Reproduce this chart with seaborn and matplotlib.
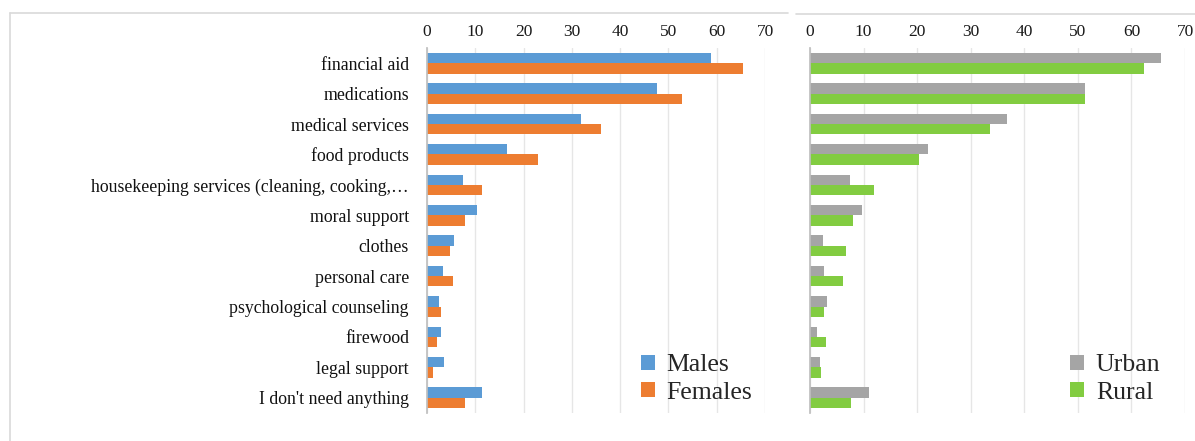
import pandas as pd
import numpy as np
import matplotlib
matplotlib.use('Agg')
import matplotlib.pyplot as plt
import seaborn as sns
from matplotlib.lines import Line2D

# data
categories = ['financial aid', 'medications', 'medical services', 'food products',
              'housekeeping services (cleaning, cooking,\u2026', 'moral support', 'clothes',
              'personal care', 'psychological counseling', 'firewood', 'legal support',
              "I don't need anything"]
males = [58.8, 47.7, 31.9, 16.6, 7.4, 10.3, 5.5, 3.3, 2.5, 2.8, 3.6, 11.3]
females = [65.5, 52.8, 36.0, 23.0, 11.3, 7.8, 4.8, 5.3, 3.0, 2.0, 1.2, 7.8]
urban = [65.6, 51.4, 36.7, 22.1, 7.4, 9.7, 2.4, 2.7, 3.1, 1.3, 1.9, 11.0]
rural = [62.4, 51.4, 33.6, 20.3, 12.0, 8.0, 6.8, 6.1, 2.7, 2.9, 2.0, 7.6]
x_ticks = [0, 10, 20, 30, 40, 50, 60, 70]

sns.set_theme(style='white')
plt.rcParams['font.family'] = ['Liberation Serif', 'DejaVu Serif']

df_sex = pd.DataFrame({'need': categories * 2,
                       'value': males + females,
                       'group': ['Males'] * len(categories) + ['Females'] * len(categories)})
df_area = pd.DataFrame({'need': categories * 2,
                        'value': urban + rural,
                        'group': ['Urban'] * len(categories) + ['Rural'] * len(categories)})

fig = plt.figure(figsize=(11.95, 4.41), dpi=100)
ax1 = fig.add_axes([427 / 1195, 1 - 413 / 441, 338 / 1195, 365 / 441])
ax2 = fig.add_axes([810 / 1195, 1 - 413 / 441, 375 / 1195, 365 / 441])

sns.barplot(data=df_sex, y='need', x='value', hue='group', orient='h', ax=ax1,
            palette=['#5B9BD5', '#ED7D31'], width=0.68, saturation=1, linewidth=0)
sns.barplot(data=df_area, y='need', x='value', hue='group', orient='h', ax=ax2,
            palette=['#A5A5A5', '#82CC41'], width=0.68, saturation=1, linewidth=0)

for ax, anchor_x in ((ax1, 1.012), (ax2, 0.979)):
    ax.set_xlim(0, 70)
    ax.set_xticks(x_ticks)
    ax.xaxis.tick_top()
    ax.tick_params(axis='x', length=0, labelsize=12.5, pad=6, colors='#1A1A1A')
    ax.tick_params(axis='y', length=0)
    ax.set_xlabel('')
    ax.set_ylabel('')
    ax.grid(axis='x', color='#E6E6E6', linewidth=1)
    ax.set_axisbelow(True)
    for s in ['top', 'right', 'bottom']:
        ax.spines[s].set_visible(False)
    ax.spines['left'].set_color('#BFBFBF')
    ax.legend(loc='lower right', bbox_to_anchor=(anchor_x, -0.02), frameon=False,
              fontsize=18.5, handlelength=0.55, handleheight=0.55, handletextpad=0.45,
              labelspacing=0.2, borderaxespad=0.25)

ax1.tick_params(axis='y', labelsize=12.8, pad=13, colors='#111111')
ax2.set_yticklabels([])

# panel borders
fig.add_artist(Line2D([10 / 1195, 788 / 1195], [1 - 13 / 441] * 2, color='#D9D9D9', lw=1.2))
fig.add_artist(Line2D([10 / 1195, 10 / 1195], [0, 1 - 13 / 441], color='#D9D9D9', lw=1.2))
fig.add_artist(Line2D([796 / 1195, 1], [1 - 14 / 441] * 2, color='#D9D9D9', lw=1.2))

fig.savefig('out.png', dpi=100)
